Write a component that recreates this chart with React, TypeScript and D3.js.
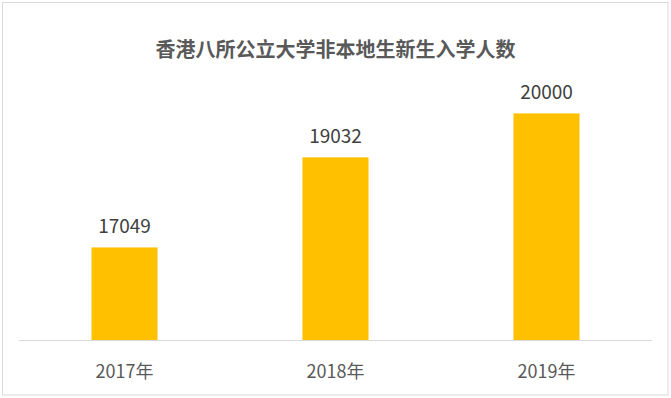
import React from "react";
import * as d3 from "d3";

const categories = ["2017年", "2018年", "2019年"];
const values = [17049, 19032, 20000];
const title = "香港八所公立大学非本地生新生入学人数";

const W = 671;
const H = 398;

export default function App() {
  const x = d3.scaleBand<string>().domain(categories).range([19, 652]).paddingInner(0.687).paddingOuter(0.3435);
  const y = d3.scaleLinear().domain([15000, 21000]).range([340.5, 68]);
  const font = "'Noto Sans CJK SC', sans-serif";
  return (
    <svg width={W} height={H} style={{ position: "absolute", left: 0, top: 0, background: "#fff" }}>
      <rect x={2.5} y={2.5} width={665.5} height={392.5} fill="#fff" stroke="#d9d9d9" strokeWidth={1} />
      <text x={335.5} y={57} textAnchor="middle" fontSize={20} fontWeight="bold" fill="#595959"
        fontFamily={font}>{title}</text>
      {categories.map((c, i) => (
        <g key={c}>
          <rect x={x(c)} y={y(values[i])} width={x.bandwidth()} height={y(15000) - y(values[i])} fill="#FFC000" />
          <text x={(x(c) as number) + x.bandwidth() / 2} y={y(values[i]) - 14} textAnchor="middle" fontSize={19}
            fill="#404040" fontFamily={font}>{values[i]}</text>
          <text x={(x(c) as number) + x.bandwidth() / 2} y={378} textAnchor="middle" fontSize={18}
            fill="#595959" fontFamily={font}>{c}</text>
        </g>
      ))}
      <line x1={19} x2={652} y1={340.5} y2={340.5} stroke="#d9d9d9" strokeWidth={1} />
    </svg>
  );
}
